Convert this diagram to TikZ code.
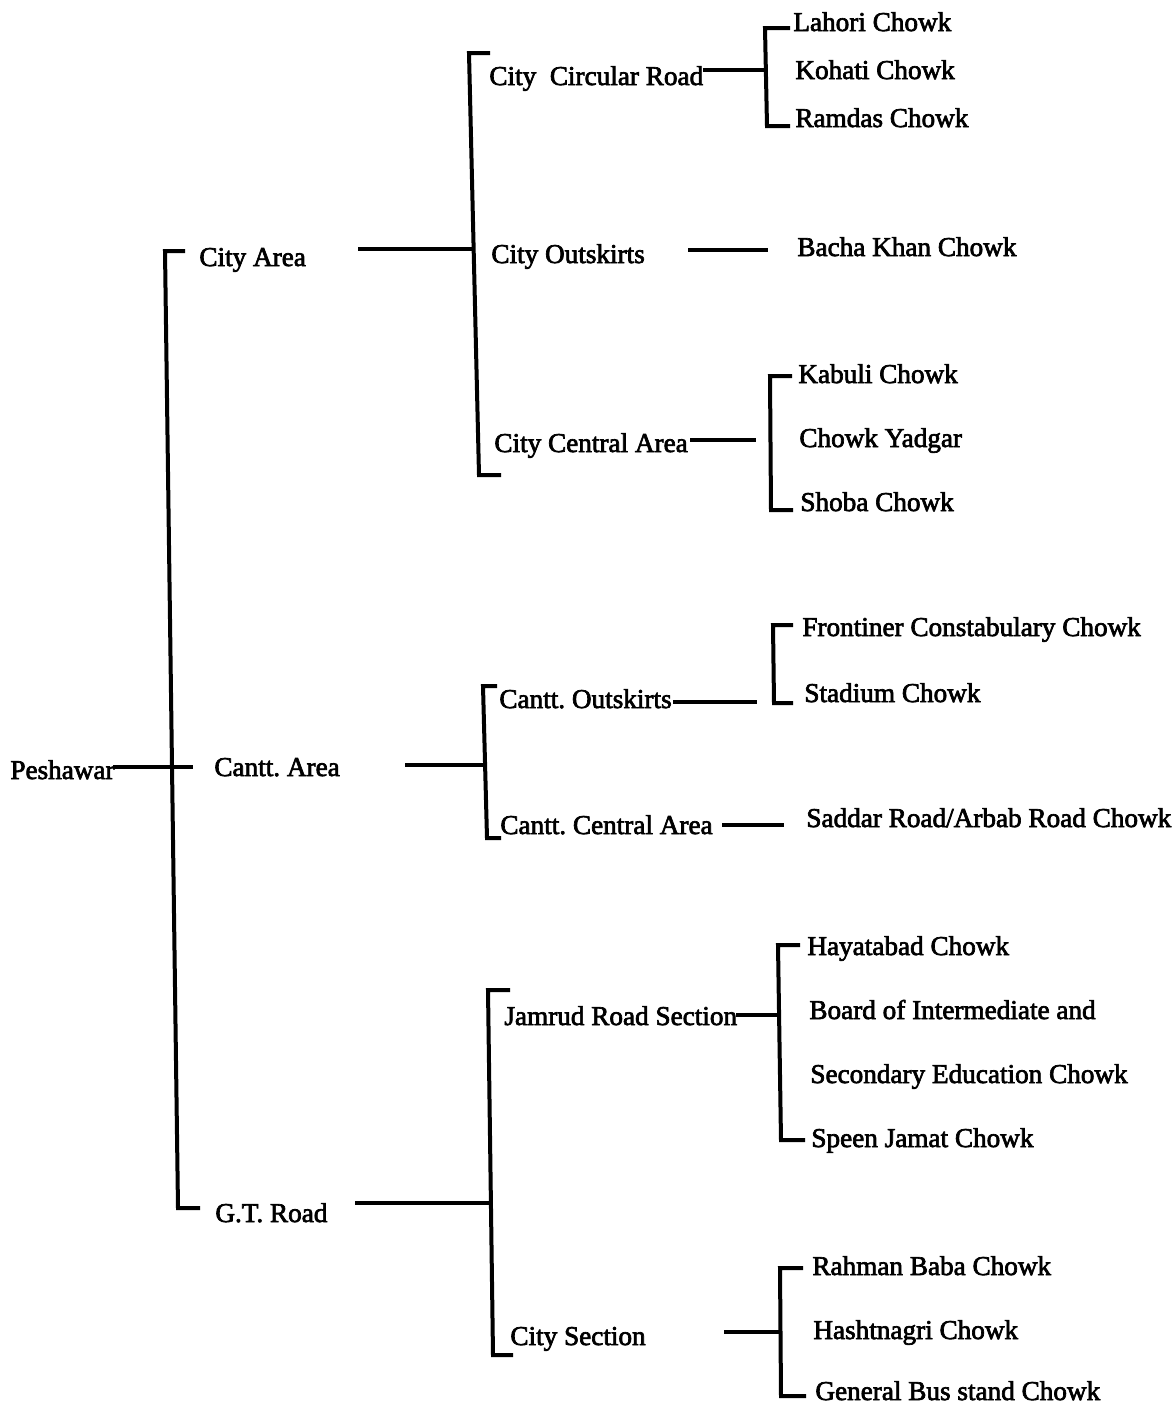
\documentclass[tikz,border=0pt]{standalone}
\usepackage{fontspec}
\setmainfont{Liberation Serif}
\newfontfamily\heavyfont{Liberation Serif}[FakeBold=2.5]
\begin{document}
\frenchspacing
\begin{tikzpicture}[x=0.5pt,y=-0.5pt,
  lbl/.style={anchor=base west, inner sep=0pt, font=\heavyfont\fontsize{13.6pt}{16pt}\selectfont},
  ln/.style={line width=2pt, line cap=butt, line join=miter}]
\useasboundingbox[fill=white] (0,0) rectangle (1176,1404);
% ---- labels ----
\node[lbl] (pesh) at (10,779) {Peshawar};
\node[lbl] (ca) at (199,266) {City Area};
\node[lbl] (cn) at (214,776) {Cantt. Area};
\node[lbl] (gt) at (215,1222) {G.T. Road};
\node[lbl] (ccr) at (489,85) {City\ \ Circular Road};
\node[lbl] (cok) at (491,263) {City Outskirts};
\node[lbl] (cca) at (494,452) {City Central Area};
\node[lbl] (cto) at (499,708) {Cantt. Outskirts};
\node[lbl] (ctc) at (500,834) {Cantt. Central Area};
\node[lbl] (jrs) at (504,1025) {Jamrud Road Section};
\node[lbl] (cs) at (510,1345) {City Section};
\node[lbl] (l1) at (793,31) {Lahori Chowk};
\node[lbl] (l2) at (795,79) {Kohati Chowk};
\node[lbl] (l3) at (795,127) {Ramdas Chowk};
\node[lbl] (l4) at (797,256) {Bacha Khan Chowk};
\node[lbl] (l5) at (798,383) {Kabuli Chowk};
\node[lbl] (l6) at (799,447) {Chowk Yadgar};
\node[lbl] (l7) at (800,511) {Shoba Chowk};
\node[lbl] (l8) at (802,636) {Frontiner Constabulary Chowk};
\node[lbl] (l9) at (804,702) {Stadium Chowk};
\node[lbl] (l10) at (806,827) {Saddar Road/Arbab Road Chowk};
\node[lbl] (l11) at (807,955) {Hayatabad Chowk};
\node[lbl] (l12) at (809,1019) {Board of Intermediate and};
\node[lbl] (l13) at (810,1083) {Secondary Education Chowk};
\node[lbl] (l14) at (811,1147) {Speen Jamat Chowk};
\node[lbl] (l15) at (812,1275) {Rahman Baba Chowk};
\node[lbl] (l16) at (813,1339) {Hashtnagri Chowk};
\node[lbl] (l17) at (815,1400) {General Bus stand Chowk};
% ---- bracket corners ----
\coordinate (b0a) at (185,251); \coordinate (b0b) at (165,251);
\coordinate (b0c) at (178,1208); \coordinate (b0d) at (200,1208);
\coordinate (b1a) at (490,53); \coordinate (b1b) at (469,53);
\coordinate (b1c) at (479,475); \coordinate (b1d) at (501,475);
\coordinate (b2a) at (497,686); \coordinate (b2b) at (483,686);
\coordinate (b2c) at (487,838); \coordinate (b2d) at (501,838);
\coordinate (b3a) at (510,990); \coordinate (b3b) at (488,990);
\coordinate (b3c) at (493,1355); \coordinate (b3d) at (513,1355);
\coordinate (c1a) at (790,28); \coordinate (c1b) at (765,28);
\coordinate (c1c) at (767,126); \coordinate (c1d) at (790,126);
\coordinate (c2a) at (792,376); \coordinate (c2b) at (770,376);
\coordinate (c2c) at (771,510); \coordinate (c2d) at (793,510);
\coordinate (c3a) at (793,625); \coordinate (c3b) at (773,625);
\coordinate (c3c) at (774,703); \coordinate (c3d) at (793,703);
\coordinate (c4a) at (800,945); \coordinate (c4b) at (778,945);
\coordinate (c4c) at (781,1140); \coordinate (c4d) at (805,1140);
\coordinate (c5a) at (803,1268); \coordinate (c5b) at (780,1268);
\coordinate (c5c) at (781,1396); \coordinate (c5d) at (806,1396);
% ---- connector ends ----
\coordinate (p0) at (113,767); \coordinate (p1) at (193,767);
\coordinate (e1) at (358,249); \coordinate (f1) at (474,249);
\coordinate (e2) at (405,765); \coordinate (f2) at (485,765);
\coordinate (e3) at (355,1203); \coordinate (f3) at (491,1203);
\coordinate (g1) at (703,70); \coordinate (h1) at (766,70);
\coordinate (g2) at (688,250); \coordinate (h2) at (768,250);
\coordinate (g3) at (690,440); \coordinate (h3) at (756,440);
\coordinate (g4) at (673,702); \coordinate (h4) at (757,702);
\coordinate (g5) at (722,825); \coordinate (h5) at (784,825);
\coordinate (g6) at (736,1015); \coordinate (h6) at (780,1015);
\coordinate (g7) at (724,1332); \coordinate (h7) at (781,1332);
% ---- brackets ----
\foreach \b in {b0,b1,b2,b3,c1,c2,c3,c4,c5}
  \draw[ln] (\b a) -- (\b b) -- (\b c) -- (\b d);
% ---- connectors ----
\draw[ln] (p0) -- (p1);
\foreach \i in {1,2,3} \draw[ln] (e\i) -- (f\i);
\foreach \i in {1,...,7} \draw[ln] (g\i) -- (h\i);
\end{tikzpicture}
\end{document}
